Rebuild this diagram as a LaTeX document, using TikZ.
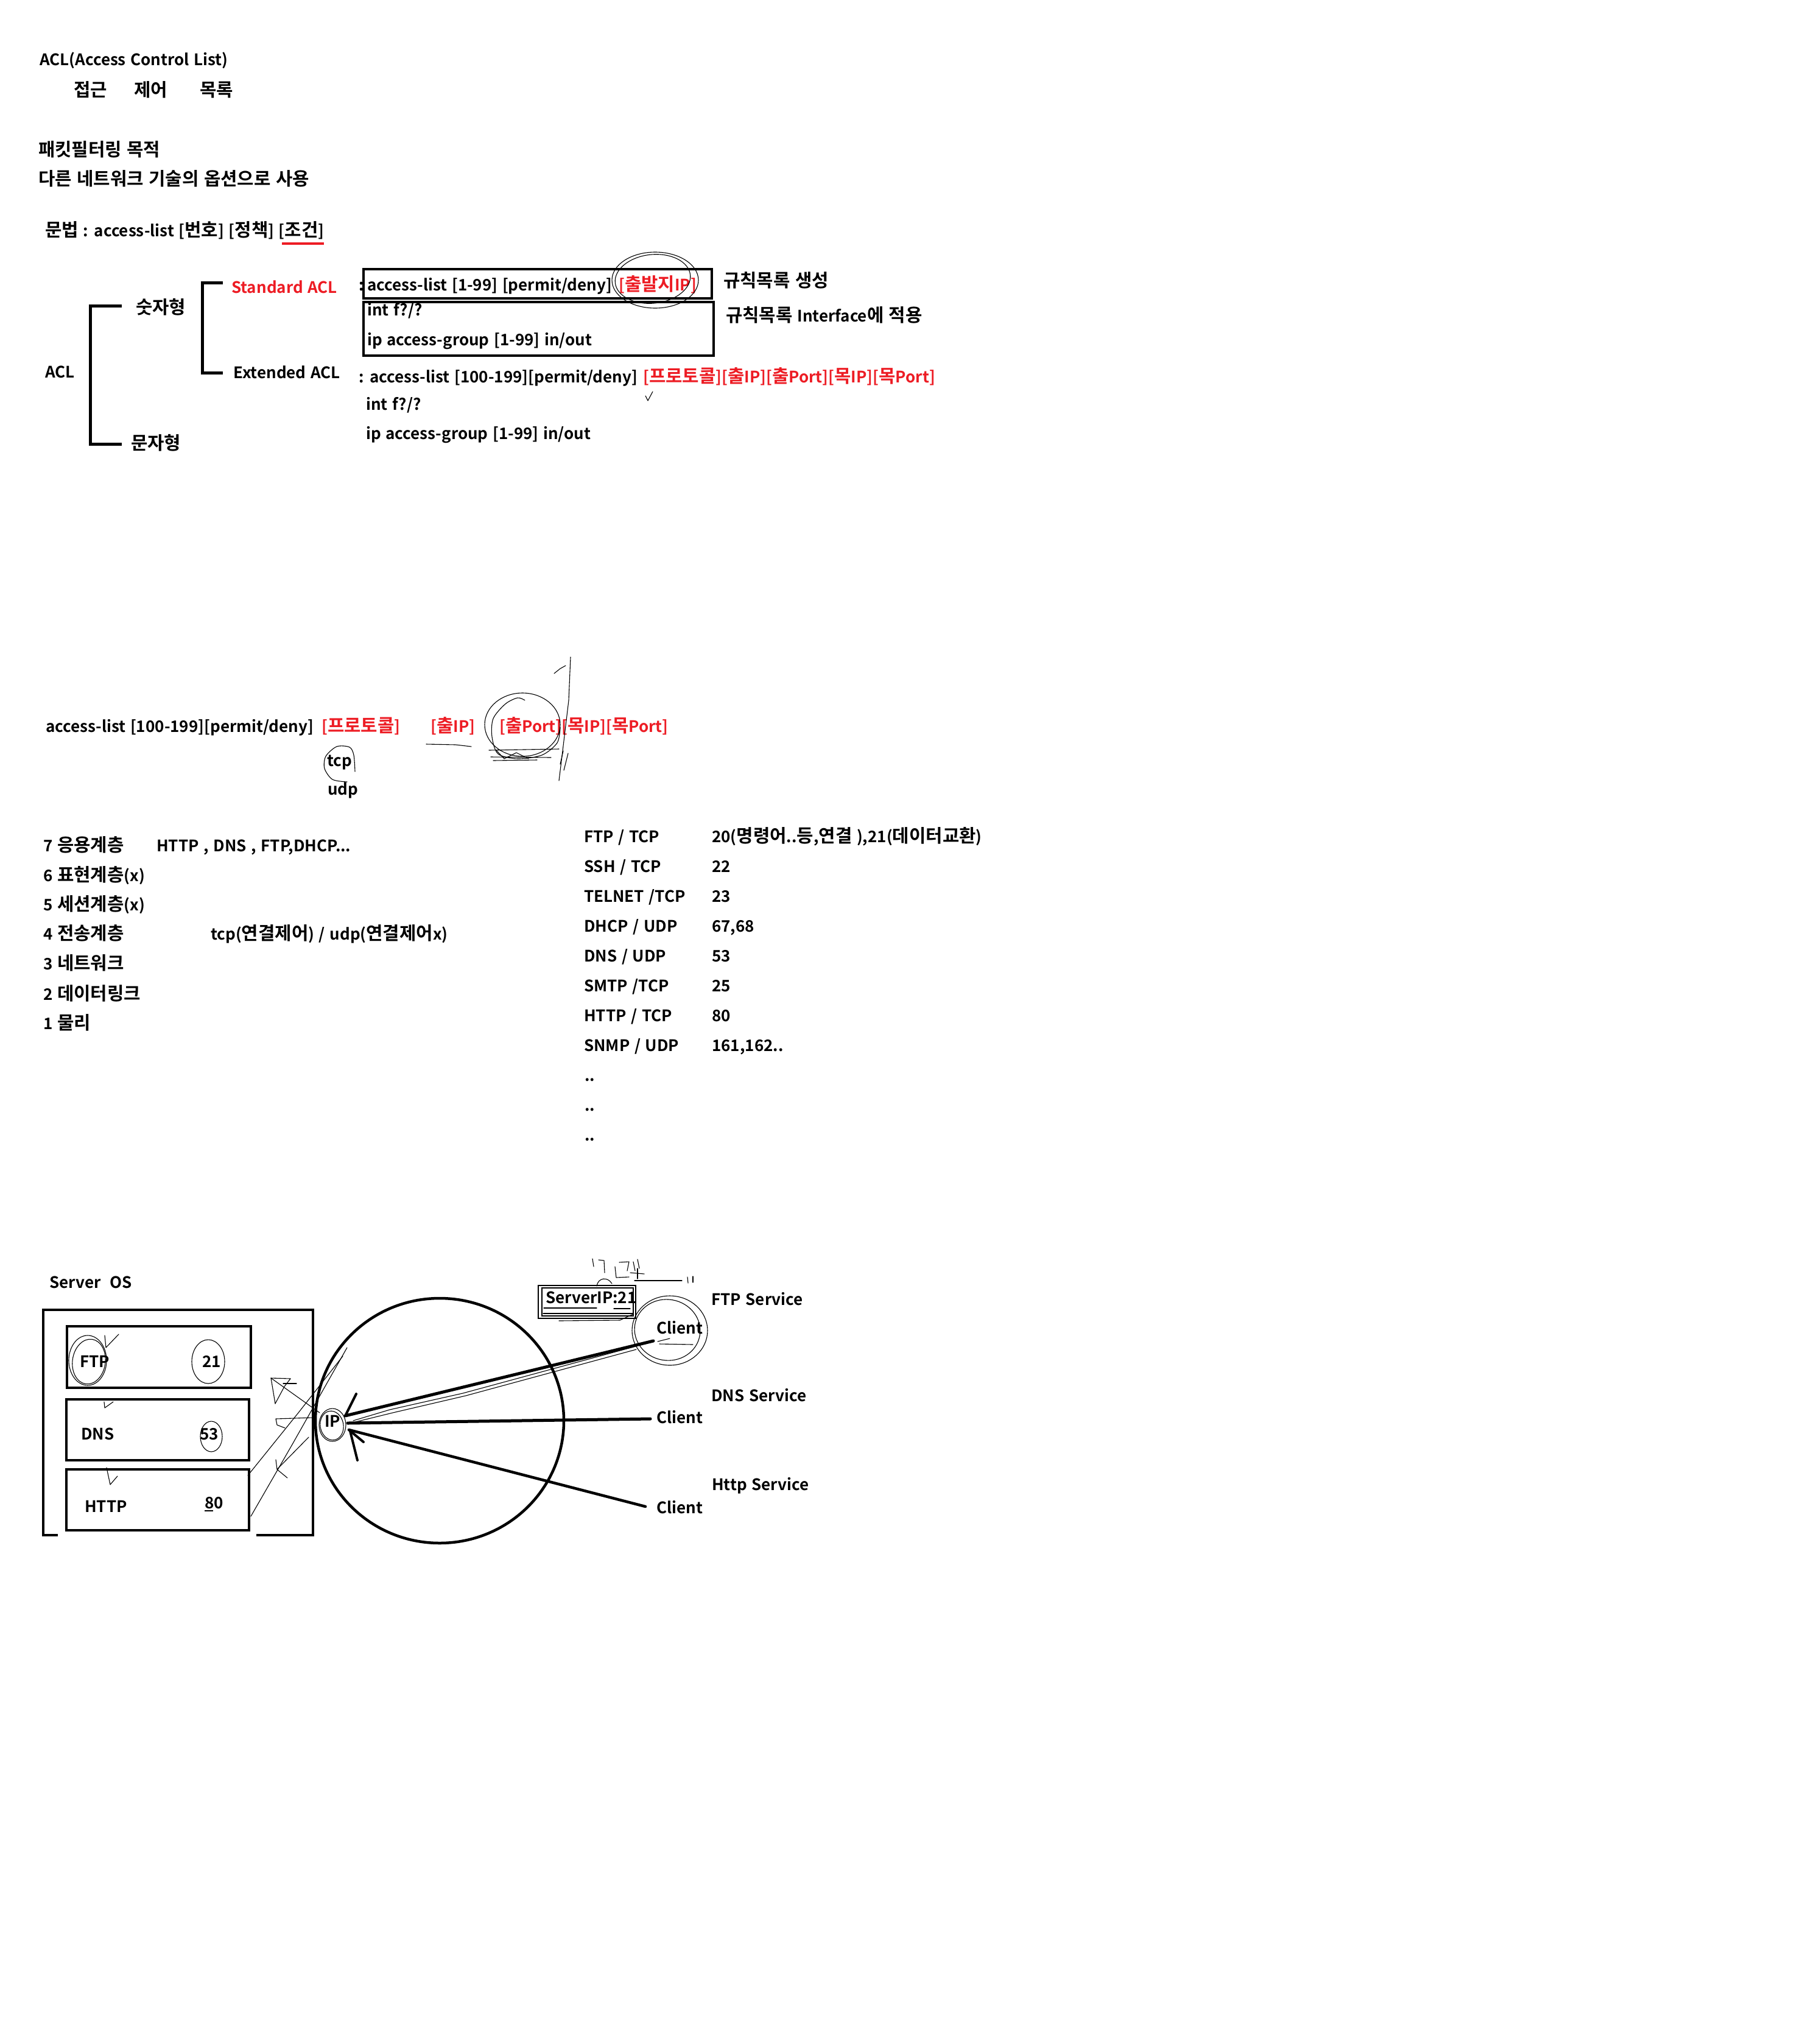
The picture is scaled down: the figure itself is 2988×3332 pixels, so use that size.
\documentclass[tikz,border=0pt]{standalone}
\usepackage{fontspec}
\setmainfont{Noto Sans CJK KR}[UprightFont=* Bold, WordSpace=1.3]
\newfontfamily\krfont{Noto Sans CJK KR}[UprightFont=* Bold, Scale=1.145, WordSpace=1.25]
\newcommand\hg[1]{{\krfont #1}}
\usetikzlibrary{calc}
\definecolor{pred}{RGB}{237,28,36}
\newcommand\fsz{\fontsize{26}{31}\selectfont}
\begin{document}
\begin{tikzpicture}[x=1pt,y=-1pt,
  tx/.style={anchor=base west,inner sep=0pt,font=\fsz},
  rtx/.style={tx,text=pred},
  boxline/.style={line width=4.5pt},
  brk/.style={line width=5pt},
  conn/.style={line width=5pt,line cap=round},
  hand/.style={line width=1.1pt,line cap=round,line join=round},
  tipline/.style={line width=4pt,line cap=round}]
\fill[white] (0,0) rectangle (2988,3332);
\useasboundingbox (0,0) rectangle (2988,3332);

% ---------- header ----------
\node[tx] (title) at (65,108) {ACL(Access Control List)};
\node[tx] (k1) at (121,158) {\hg{접근}};
\node[tx] (k2) at (220,158) {\hg{제어}};
\node[tx] (k3) at (328,158) {\hg{목록}};
\node[tx] (p1) at (63,256) {\hg{패킷필터링 목적}};
\node[tx] (p2) at (63,304) {\hg{다른 네트워크 기술의 옵션으로 사용}};
\node[tx] (syn) at (74,388) {\hg{문법} : access-list [\hg{번호}] [\hg{정책}] [\hg{조건}]};
\draw[pred,line width=3.5pt] (463,400) -- (532,400);

% ---------- ACL tree ----------
\node[tx] (acl) at (74,620) {ACL};
\node[tx] (num) at (223,515) {\hg{숫자형}};
\node[tx] (chr) at (215,738) {\hg{문자형}};
\draw[brk] (200,502) -- (148,502) -- (148,729) -- (200,729);
\draw[brk] (366,464) -- (332,464) -- (332,612) -- (366,612);
\node[rtx] (std) at (380,481) {Standard ACL};
\node[tx] (ext) at (383,621) {Extended ACL};

\node[tx] (col1) at (589,477) {:};
\draw[boxline] (597,442) rectangle (1169,490);
\draw[boxline] (597,496) rectangle (1172,584);
\node[tx] (s1) at (603,477) {access-list [1-99] [permit/deny]};
\node[rtx] (s1r) at (1016,477) {[\hg{출발지}IP]};
\node[tx] (s2) at (603,518) {int f?/?};
\node[tx] (s3) at (603,567) {ip access-group [1-99] in/out};
\node[tx] (r1) at (1188,471) {\hg{규칙목록 생성}};
\node[tx] (r2) at (1192,528) {\hg{규칙목록} Interface\hg{에 적용}};
\draw[hand] (1076,460) ellipse [x radius=71,y radius=46];
\draw[hand,rotate around={6:(1072,458)}] (1072,458) ellipse [x radius=62,y radius=40];

\node[tx] (e1) at (589,628) {: access-list [100-199][permit/deny]};
\node[rtx] (e1r) at (1056,628) {[\hg{프로토콜}][\hg{출}IP][\hg{출}Port][\hg{목}IP][\hg{목}Port]};
\draw[hand] (1060,650) -- (1064,658) -- (1072,643);
\node[tx] (e2) at (601,673) {int f?/?};
\node[tx] (e3) at (601,721) {ip access-group [1-99] in/out};

% ---------- extended syntax ----------
\node[tx] (x1) at (75,1202) {access-list [100-199][permit/deny]};
\node[rtx] (x2) at (528,1202) {[\hg{프로토콜}]};
\node[rtx] (x3) at (707,1202) {[\hg{출}IP]};
\node[rtx] (x4) at (820,1202) {[\hg{출}Port][\hg{목}IP][\hg{목}Port]};
\node[tx] (tcp) at (537,1258) {tcp};
\node[tx] (udp) at (538,1305) {udp};
\draw[hand] plot[smooth] coordinates {(583,1267) (581,1240) (574,1227) (553,1226) (535,1242) (533,1262) (546,1280) (570,1284)};
\draw[hand] (700,1222) -- (748,1223) -- (774,1226);
\draw[hand] (858,1190) ellipse [x radius=62,y radius=52];
\draw[hand] plot[smooth] coordinates {(862,1150) (850,1146) (830,1156) (810,1180) (808,1210) (818,1238) (850,1246) (890,1240) (915,1220) (920,1195)};
\draw[hand] (803,1232) -- (918,1230);
\draw[hand] (806,1243) -- (905,1244);
\draw[hand] (810,1249) -- (882,1248);
\draw[hand] (815,1232) -- (828,1246) -- (848,1236) -- (868,1246);
\draw[hand] (937,1079) -- (934,1150) -- (925,1225) -- (918,1282);
\draw[hand] (910,1106) -- (920,1098) -- (929,1093);
\draw[hand] (925,1233) -- (920,1255);
\draw[hand] (933,1237) -- (926,1265);

% ---------- OSI layers ----------
\node[tx] (o7) at (71,1398) {7 \hg{응용계층}};
\node[tx] (o6) at (71,1447) {6 \hg{표현계층}(x)};
\node[tx] (o5) at (71,1495) {5 \hg{세션계층}(x)};
\node[tx] (o4) at (71,1543) {4 \hg{전송계층}};
\node[tx] (o3) at (71,1592) {3 \hg{네트워크}};
\node[tx] (o2) at (71,1642) {2 \hg{데이터링크}};
\node[tx] (o1) at (71,1690) {1 \hg{물리}};
\node[tx] (o7b) at (257,1398) {HTTP , DNS , FTP,DHCP...};
\node[tx] (o4b) at (346,1543) {tcp(\hg{연결제어}) / udp(\hg{연결제어}x)};

% ---------- ports ----------
\node[tx] (pa1) at (959,1383) {FTP / TCP};
\node[tx] (pb1) at (1169,1383) {20(\hg{명령어}..\hg{등},\hg{연결} ),21(\hg{데이터교환})};
\node[tx] (pa2) at (959,1432) {SSH / TCP};
\node[tx] (pb2) at (1169,1432) {22};
\node[tx] (pa3) at (959,1481) {TELNET /TCP};
\node[tx] (pb3) at (1169,1481) {23};
\node[tx] (pa4) at (959,1530) {DHCP / UDP};
\node[tx] (pb4) at (1169,1530) {67,68};
\node[tx] (pa5) at (959,1579) {DNS / UDP};
\node[tx] (pb5) at (1169,1579) {53};
\node[tx] (pa6) at (959,1628) {SMTP /TCP};
\node[tx] (pb6) at (1169,1628) {25};
\node[tx] (pa7) at (959,1677) {HTTP / TCP};
\node[tx] (pb7) at (1169,1677) {80};
\node[tx] (pa8) at (959,1726) {SNMP / UDP};
\node[tx] (pb8) at (1169,1726) {161,162..};
\node[tx] (d1) at (960,1775) {..};
\node[tx] (d2) at (960,1824) {..};
\node[tx] (d3) at (960,1873) {..};

% ---------- server diagram ----------
\node[tx] (sos) at (81,2115) {Server\ \ OS};
\draw[boxline] (95,2521) -- (71,2521) -- (71,2151) -- (514,2151) -- (514,2521) -- (421,2521);
\draw[boxline] (110,2178) rectangle (412,2279);
\draw[boxline] (109,2298) rectangle (409,2398);
\draw[boxline] (109,2413) rectangle (409,2513);
\node[tx] (ftp) at (131,2245) {FTP};
\node[tx] (p21) at (332,2245) {21};
\node[tx] (dns) at (133,2364) {DNS};
\node[tx] (p53) at (328,2364) {53};
\node[tx] (http) at (139,2483) {HTTP};
\node[tx] (p80) at (336,2477) {80};
\draw[line width=1.2pt] (336,2481) -- (350,2481);

% hand marks in server box
\draw[hand] (144,2234) ellipse [x radius=31,y radius=41];
\draw[hand,rotate around={-8:(146,2236)}] (146,2236) ellipse [x radius=27,y radius=37];
\draw[hand] (172,2193) -- (174,2213) -- (195,2191);
\draw[hand] (171,2302) -- (172,2312) -- (186,2302);
\draw[hand] (175,2410) -- (181,2438) -- (193,2424);
\draw[hand] (342,2236) ellipse [x radius=27,y radius=36];
\draw[hand] (347,2359) ellipse [x radius=18,y radius=25];
\draw[hand] (412,2490) -- (480,2372) -- (570,2213);
\draw[hand] (407,2423) -- (490,2320) -- (563,2227);
\draw[hand] (445,2263) -- (525,2320);
\draw[hand] (452,2305) -- (445,2263) -- (477,2264);
\draw[hand] (452,2305) -- (467,2277) -- (477,2264);
\draw[hand] (465,2272) -- (487,2272);
\draw[hand] (468,2345) -- (455,2340) -- (453,2330) -- (513,2328);
\draw[hand] (453,2397) -- (455,2413) -- (472,2427);
\draw[hand] (455,2413) -- (507,2360);

% network circle
\draw[line width=4.5pt] (722,2333) ellipse [x radius=204,y radius=201];
\node[tx] (ip) at (533,2343) {IP};
\draw[hand] (546,2340) ellipse [x radius=22,y radius=27];
\draw[hand,rotate around={10:(545,2341)}] (545,2341) ellipse [x radius=19,y radius=24];

% clients
\node[tx] (c1) at (1078,2190) {Client};
\node[tx] (c2) at (1078,2337) {Client};
\node[tx] (c3) at (1078,2485) {Client};
\node[tx] (fs) at (1168,2143) {FTP Service};
\node[tx] (ds) at (1168,2301) {DNS Service};
\node[tx] (hs) at (1169,2447) {Http Service};

\coordinate (c1p) at (1073,2202);
\coordinate (c2p) at (1068,2330);
\coordinate (c3p) at (1060,2474);
\coordinate (t1) at (567,2325);
\coordinate (t2) at (571,2337);
\coordinate (t3) at (573,2348);
\draw[conn] (c1p) -- (t1);
\draw[conn] (c2p) -- (t2);
\draw[conn,line width=4.5pt] (c3p) -- (t3);
\draw[tipline] (585,2289) -- (t1);
\draw[tipline] (597,2368) -- (t3);
\draw[tipline] (587,2398) -- (575,2350);
\draw[hand] (1040,2212) -- (900,2250) -- (760,2288) -- (640,2315) -- (580,2333);
\draw[hand] (1045,2216) -- (905,2254) -- (765,2292) -- (645,2320) -- (580,2336);

% ServerIP box
\node[tx] (sip) at (896,2140) {ServerIP:21};
\draw[line width=1.1pt] (884,2111) rectangle (1044,2165);
\draw[line width=1.1pt] (890,2115) rectangle (1040,2161);
\draw[hand] (892,2157) -- (1040,2157);
\draw[hand] (893,2148) -- (980,2148);
\draw[hand] (1008,2149) -- (1035,2149);
\draw[hand] (918,2169) -- (1018,2168) -- (1040,2158);
% scribbles above
\draw[hand] (973,2067) -- (975,2080);
\draw[hand] (983,2069) -- (992,2070) -- (993,2090);
\draw[hand] (1017,2073) -- (1033,2072) -- (1030,2087);
\draw[hand] (1010,2080) -- (1012,2098) -- (1033,2097);
\draw[hand] (1040,2072) -- (1043,2087);
\draw[hand] (1047,2068) -- (1050,2083);
\draw[hand] (1035,2090) -- (1058,2092);
\draw[hand] (1047,2083) -- (1047,2100);
\draw[hand] (1042,2103) -- (1120,2103);
\draw[hand] (1129,2097) -- (1130,2107);
\draw[hand] (1138,2096) -- (1138,2106);
\draw[hand] (980,2112) .. controls (982,2098) and (998,2096) .. (1005,2108);
% client ellipse
\draw[hand] (1100,2185) ellipse [x radius=62,y radius=57];
\draw[hand,rotate around={-10:(1096,2184)}] (1096,2184) ellipse [x radius=54,y radius=50];
\draw[hand] (1080,2203) -- (1100,2198);
\draw[hand] (1083,2207) -- (1138,2208);
\end{tikzpicture}
\end{document}
